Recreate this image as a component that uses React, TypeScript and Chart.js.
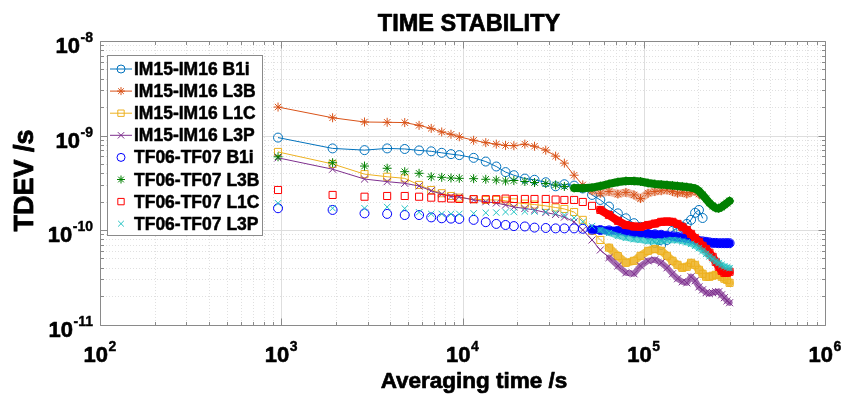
import { useEffect, useRef } from 'react';
import { Chart, registerables } from 'chart.js';

Chart.register(...registerables);

// Averaging time tau (s) at which the deviations were read
const tau = [960, 1920, 2880, 3840, 4800, 5760, 6720, 7680, 8640, 9600,
  11520, 13440, 15360, 17280, 19200, 22080, 24960, 28800, 32640, 36480,
  41280, 46080, 51840, 57600, 64320, 72000, 79680, 88320, 96000, 105600,
  115200, 124800, 134400, 144000, 153600, 163200, 172800, 182400, 192000, 201600,
  211200, 220800, 230400, 240000, 249600, 259200, 268800, 278400, 288000, 297600];

const im1516B1i = [9.5e-10, 7.3e-10, 7.0e-10, 7.3e-10, 7.2e-10, 6.95e-10, 6.8e-10, 6.56e-10, 6.35e-10, 6.2e-10,
  5.8e-10, 5.3e-10, 4.7e-10, 4.1e-10, 3.8e-10, 3.5e-10, 3.4e-10, 3.2e-10, 2.9e-10, 3.05e-10,
  2.95e-10, 2.75e-10, 2.35e-10, 2.08e-10, 1.77e-10, 1.5e-10, 1.33e-10, 1.18e-10, 1.08e-10, 8.9e-11,
  7.3e-11, 6.95e-11, 7.85e-11, 9.8e-11, 1.05e-10, 1.08e-10, 1.16e-10, 1.28e-10, 1.52e-10, 1.63e-10,
  1.34e-10];

const im1516L3B = [2.0e-9, 1.54e-9, 1.39e-9, 1.38e-9, 1.37e-9, 1.28e-9, 1.19e-9, 1.09e-9, 1.03e-9, 9.7e-10,
  8.9e-10, 8.4e-10, 8.1e-10, 7.85e-10, 7.8e-10, 8.1e-10, 7.7e-10, 7.0e-10, 6.05e-10, 5.1e-10,
  3.8e-10, 3.0e-10, 2.6e-10, 2.45e-10, 2.55e-10, 2.4e-10, 2.5e-10, 2.35e-10, 2.15e-10, 2.45e-10,
  2.55e-10, 2.6e-10, 2.65e-10, 2.55e-10, 2.45e-10, 2.5e-10, 2.4e-10, 2.5e-10, 2.6e-10, 2.4e-10,
  2.3e-10];

const im1516L1C = [6.7e-10, 5.0e-10, 3.9e-10, 3.66e-10, 3.52e-10, 3.0e-10, 2.65e-10, 2.45e-10, 2.29e-10, 2.2e-10,
  2.12e-10, 2.08e-10, 2.08e-10, 2.04e-10, 1.96e-10, 1.9e-10, 1.86e-10, 1.8e-10, 1.73e-10, 1.67e-10,
  1.55e-10, 1.28e-10, 9.8e-11, 7.85e-11, 6.5e-11, 5.3e-11, 4.5e-11, 4.72e-11, 5.33e-11, 6.02e-11,
  6.3e-11, 6.02e-11, 5.33e-11, 4.72e-11, 4.28e-11, 3.98e-11, 4.08e-11, 4.5e-11, 4.28e-11, 3.79e-11,
  3.44e-11, 3.2e-11, 3.2e-11, 3.28e-11, 3.36e-11, 3.36e-11, 3.2e-11, 3.05e-11, 2.97e-11, 2.76e-11];

const im1516L3P = [5.8e-10, 4.4e-10, 3.46e-10, 3.25e-10, 3.12e-10, 2.92e-10, 2.6e-10, 2.4e-10, 2.26e-10, 2.24e-10,
  2.08e-10, 1.99e-10, 1.93e-10, 1.84e-10, 1.75e-10, 1.69e-10, 1.63e-10, 1.53e-10, 1.46e-10, 1.37e-10,
  1.22e-10, 1.0e-10, 7.85e-11, 6.15e-11, 5.1e-11, 4.17e-11, 3.52e-11, 3.44e-11, 4.17e-11, 4.72e-11,
  4.85e-11, 4.5e-11, 3.98e-11, 3.44e-11, 3.05e-11, 2.83e-11, 2.76e-11, 3.2e-11, 2.9e-11, 2.5e-11,
  2.33e-11, 2.17e-11, 2.12e-11, 2.17e-11, 2.22e-11, 2.22e-11, 2.06e-11, 1.92e-11, 1.78e-11, 1.7e-11];

const tf0607B1i = [1.7e-10, 1.63e-10, 1.5e-10, 1.48e-10, 1.44e-10, 1.44e-10, 1.36e-10, 1.33e-10, 1.32e-10, 1.31e-10,
  1.28e-10, 1.21e-10, 1.16e-10, 1.13e-10, 1.1e-10, 1.09e-10, 1.06e-10, 1.05e-10, 1.04e-10, 1.04e-10,
  1.04e-10, 1.03e-10, 1.01e-10, 1.0e-10, 9.9e-11, 9.8e-11, 9.55e-11, 9.3e-11, 9.2e-11, 9.1e-11,
  9.0e-11, 8.9e-11, 8.7e-11, 8.6e-11, 8.4e-11, 8.4e-11, 8.2e-11, 8.05e-11, 7.85e-11, 7.67e-11,
  7.58e-11, 7.5e-11, 7.4e-11, 7.3e-11, 7.3e-11, 7.25e-11, 7.25e-11, 7.25e-11, 7.25e-11, 7.25e-11];

const tf0607L3B = [5.95e-10, 5.15e-10, 4.75e-10, 4.5e-10, 4.14e-10, 3.98e-10, 3.66e-10, 3.61e-10, 3.55e-10, 3.52e-10,
  3.49e-10, 3.44e-10, 3.38e-10, 3.3e-10, 3.34e-10, 3.26e-10, 3.18e-10, 3.1e-10, 3.0e-10, 2.89e-10,
  2.78e-10, 2.76e-10, 2.81e-10, 2.92e-10, 3.07e-10, 3.22e-10, 3.3e-10, 3.3e-10, 3.26e-10, 3.14e-10,
  3.07e-10, 3.03e-10, 3.0e-10, 2.96e-10, 2.92e-10, 2.89e-10, 2.85e-10, 2.81e-10, 2.75e-10, 2.59e-10,
  2.35e-10, 2.13e-10, 1.93e-10, 1.8e-10, 1.71e-10, 1.69e-10, 1.75e-10, 1.84e-10, 1.93e-10, 2.03e-10];

const tf0607L1C = [2.65e-10, 2.35e-10, 2.25e-10, 2.29e-10, 2.29e-10, 2.25e-10, 2.2e-10, 2.17e-10, 2.15e-10, 2.13e-10,
  2.12e-10, 2.12e-10, 2.12e-10, 2.15e-10, 2.13e-10, 2.13e-10, 2.13e-10, 2.13e-10, 2.1e-10, 2.08e-10,
  2.08e-10, 1.98e-10, 1.8e-10, 1.63e-10, 1.44e-10, 1.25e-10, 1.13e-10, 1.09e-10, 1.08e-10, 1.13e-10,
  1.17e-10, 1.22e-10, 1.23e-10, 1.22e-10, 1.16e-10, 1.08e-10, 1.0e-10, 9.1e-11, 8.2e-11, 7.5e-11,
  6.8e-11, 6.3e-11, 5.75e-11, 5.2e-11, 4.6e-11, 4.08e-11, 3.7e-11, 3.52e-11, 3.52e-11, 3.61e-11];

const tf0607L3P = [1.92e-10, 1.7e-10, 1.7e-10, 1.75e-10, 1.69e-10, 1.54e-10, 1.48e-10, 1.48e-10, 1.48e-10, 1.48e-10,
  1.5e-10, 1.52e-10, 1.53e-10, 1.55e-10, 1.56e-10, 1.57e-10, 1.57e-10, 1.56e-10, 1.52e-10, 1.44e-10,
  1.34e-10, 1.22e-10, 1.1e-10, 1.0e-10, 9.3e-11, 8.66e-11, 8.25e-11, 7.97e-11, 7.85e-11, 7.58e-11,
  7.55e-11, 7.58e-11, 7.77e-11, 7.85e-11, 7.77e-11, 7.58e-11, 7.4e-11, 7.13e-11, 6.8e-11, 6.43e-11,
  6.02e-11, 5.6e-11, 5.25e-11, 4.95e-11, 4.66e-11, 4.47e-11, 4.28e-11, 4.13e-11, 4.03e-11, 3.95e-11];

const seriesLabels = ['IM15-IM16 B1i', 'IM15-IM16 L3B', 'IM15-IM16 L1C', 'IM15-IM16 L3P',
  'TF06-TF07 B1i', 'TF06-TF07 L3B', 'TF06-TF07 L1C', 'TF06-TF07 L3P'];

const xTickValues = [1e2, 1e3, 1e4, 1e5, 1e6];
const xTickExps = ['2', '3', '4', '5', '6'];
const yTickValues = [1e-11, 1e-10, 1e-9, 1e-8];
const yTickExps = ['-11', '-10', '-9', '-8'];

const titleText = 'TIME STABILITY';
const xTitle = 'Averaging time /s';
const yTitle = 'TDEV /s';

const FONT = '"Liberation Sans", Arial, Helvetica, sans-serif';
const INK = '#000000';

type Marker = 'circle' | 'star' | 'rect' | 'crossRot';
type Spec = {
  label: string; values: number[]; color: string; marker: Marker; radius: number;
  line: boolean; bandFrom: number; bandColor: string; bandWidth: number;
};

const specs: Spec[] = [
  { label: seriesLabels[0], values: im1516B1i, color: '#0072BD', marker: 'circle', radius: 4.5, line: true, bandFrom: -1, bandColor: '', bandWidth: 1 },
  { label: seriesLabels[1], values: im1516L3B, color: '#D95319', marker: 'star', radius: 4.5, line: true, bandFrom: 22, bandColor: 'rgba(217,83,25,0.4)', bandWidth: 8 },
  { label: seriesLabels[2], values: im1516L1C, color: '#EDB120', marker: 'rect', radius: 5, line: true, bandFrom: 24, bandColor: 'rgba(237,177,32,0.85)', bandWidth: 8 },
  { label: seriesLabels[3], values: im1516L3P, color: '#7E2F8E', marker: 'crossRot', radius: 5, line: true, bandFrom: 24, bandColor: 'rgba(126,47,142,0.7)', bandWidth: 6 },
  { label: seriesLabels[4], values: tf0607B1i, color: '#0000FF', marker: 'circle', radius: 4.5, line: false, bandFrom: 22, bandColor: '#0000FF', bandWidth: 8 },
  { label: seriesLabels[5], values: tf0607L3B, color: '#008000', marker: 'star', radius: 4.5, line: false, bandFrom: 20, bandColor: '#008000', bandWidth: 8 },
  { label: seriesLabels[6], values: tf0607L1C, color: '#FF0000', marker: 'rect', radius: 5, line: false, bandFrom: 23, bandColor: '#FF0000', bandWidth: 8 },
  { label: seriesLabels[7], values: tf0607L3P, color: '#22C2C2', marker: 'crossRot', radius: 4.5, line: false, bandFrom: 23, bandColor: 'rgba(34,194,194,0.7)', bandWidth: 6 },
];

function drawMarker(ctx: CanvasRenderingContext2D, kind: Marker, x: number, y: number, r: number, color: string) {
  ctx.save();
  ctx.strokeStyle = color;
  ctx.lineWidth = 1;
  ctx.setLineDash([]);
  ctx.beginPath();
  const h = r * Math.SQRT1_2;
  if (kind === 'circle') {
    ctx.arc(x, y, r, 0, Math.PI * 2);
  } else if (kind === 'rect') {
    ctx.rect(x - h, y - h, 2 * h, 2 * h);
  } else if (kind === 'crossRot') {
    ctx.moveTo(x - h, y - h); ctx.lineTo(x + h, y + h);
    ctx.moveTo(x - h, y + h); ctx.lineTo(x + h, y - h);
  } else {
    ctx.moveTo(x - r, y); ctx.lineTo(x + r, y);
    ctx.moveTo(x, y - r); ctx.lineTo(x, y + r);
    ctx.moveTo(x - h, y - h); ctx.lineTo(x + h, y + h);
    ctx.moveTo(x - h, y + h); ctx.lineTo(x + h, y - h);
  }
  ctx.stroke();
  ctx.restore();
}

// bold text with a thin outline to match the heavy look of the original
function heavyText(ctx: CanvasRenderingContext2D, s: string, x: number, y: number, w = 0.6) {
  ctx.fillStyle = INK;
  ctx.strokeStyle = INK;
  ctx.lineWidth = w;
  ctx.lineJoin = 'round';
  ctx.fillText(s, x, y);
  ctx.strokeText(s, x, y);
}

function drawPow(ctx: CanvasRenderingContext2D, exp: string, x: number, baseY: number, expY: number, align: 'center' | 'right') {
  const baseFont = `bold 22px ${FONT}`;
  const expFont = `bold 14px ${FONT}`;
  ctx.font = baseFont;
  const wb = ctx.measureText('10').width;
  ctx.font = expFont;
  const we = ctx.measureText(exp).width;
  const total = wb + we + 0.5;
  const start = align === 'center' ? x - total / 2 : x - total;
  ctx.textAlign = 'left';
  ctx.textBaseline = 'alphabetic';
  ctx.font = baseFont;
  heavyText(ctx, '10', start, baseY);
  ctx.font = expFont;
  heavyText(ctx, exp, start + wb + 0.5, expY, 0.4);
}

const decorPlugin = {
  id: 'decor',
  beforeDatasetsDraw(chart: any) {
    const { ctx, chartArea: a, scales } = chart;
    const xs = scales.x;
    const ys = scales.y;
    ctx.save();
    ctx.lineWidth = 1;
    // minor grid (dotted)
    ctx.strokeStyle = '#e0e0e0';
    ctx.setLineDash([1, 2]);
    ctx.beginPath();
    for (let e = 2; e < 6; e++) {
      for (let m = 2; m <= 9; m++) {
        const px = Math.round(xs.getPixelForValue(m * Math.pow(10, e))) + 0.5;
        ctx.moveTo(px, a.top); ctx.lineTo(px, a.bottom);
      }
    }
    for (let e = -11; e < -8; e++) {
      for (let m = 2; m <= 9; m++) {
        const py = Math.round(ys.getPixelForValue(m * Math.pow(10, e))) + 0.5;
        ctx.moveTo(a.left, py); ctx.lineTo(a.right, py);
      }
    }
    ctx.stroke();
    // major grid
    ctx.setLineDash([]);
    ctx.strokeStyle = '#dedede';
    ctx.beginPath();
    for (const v of xTickValues) {
      const px = Math.round(xs.getPixelForValue(v)) + 0.5;
      ctx.moveTo(px, a.top); ctx.lineTo(px, a.bottom);
    }
    for (const v of yTickValues) {
      const py = Math.round(ys.getPixelForValue(v)) + 0.5;
      ctx.moveTo(a.left, py); ctx.lineTo(a.right, py);
    }
    ctx.stroke();
    // box and inward ticks
    ctx.strokeStyle = '#8a8a8a';
    ctx.beginPath();
    const L = Math.round(a.left) + 0.5, R = Math.round(a.right) + 0.5;
    const T = Math.round(a.top) + 0.5, B = Math.round(a.bottom) + 0.5;
    ctx.rect(L, T, R - L, B - T);
    for (let e = 2; e <= 6; e++) {
      for (let m = 1; m <= 9; m++) {
        if (e === 6 && m > 1) break;
        const px = Math.round(xs.getPixelForValue(m * Math.pow(10, e))) + 0.5;
        const len = m === 1 ? 7 : 3.5;
        ctx.moveTo(px, B); ctx.lineTo(px, B - len);
        ctx.moveTo(px, T); ctx.lineTo(px, T + len);
      }
    }
    for (let e = -11; e <= -8; e++) {
      for (let m = 1; m <= 9; m++) {
        if (e === -8 && m > 1) break;
        const py = Math.round(ys.getPixelForValue(m * Math.pow(10, e))) + 0.5;
        const len = m === 1 ? 7 : 3.5;
        ctx.moveTo(L, py); ctx.lineTo(L + len, py);
        ctx.moveTo(R, py); ctx.lineTo(R - len, py);
      }
    }
    ctx.stroke();
    ctx.restore();
  },
  afterDatasetsDraw(chart: any) {
    const { ctx } = chart;
    ctx.save();
    const x0 = 107, y0 = 55, x1 = 262, y1 = 235;
    ctx.fillStyle = '#ffffff';
    ctx.fillRect(x0, y0, x1 - x0, y1 - y0);
    ctx.strokeStyle = '#8a8a8a';
    ctx.lineWidth = 1;
    ctx.strokeRect(x0 + 0.5, y0 + 0.5, x1 - x0, y1 - y0);
    specs.forEach((s, i) => {
      const base = 75 + 22.1 * i;
      const cy = base - 6;
      if (s.line) {
        ctx.strokeStyle = s.color;
        ctx.lineWidth = 1;
        ctx.beginPath();
        ctx.moveTo(110, cy); ctx.lineTo(132, cy);
        ctx.stroke();
      }
      drawMarker(ctx, s.marker, 121, cy, s.radius - 0.5, s.color);
      ctx.font = `bold 17.5px ${FONT}`;
      ctx.textAlign = 'left';
      ctx.textBaseline = 'alphabetic';
      heavyText(ctx, s.label, 134, base, 0.5);
    });
    ctx.restore();
  },
  afterDraw(chart: any) {
    const { ctx, chartArea: a, scales } = chart;
    ctx.save();
    xTickValues.forEach((v, i) => {
      const px = scales.x.getPixelForValue(v);
      drawPow(ctx, xTickExps[i], px, a.bottom + 37, a.bottom + 26, 'center');
    });
    yTickValues.forEach((v, i) => {
      const py = scales.y.getPixelForValue(v);
      drawPow(ctx, yTickExps[i], a.left - 7, py + 12, py + 1, 'right');
    });
    ctx.textAlign = 'center';
    ctx.textBaseline = 'alphabetic';
    ctx.font = `bold 23.5px ${FONT}`;
    heavyText(ctx, titleText, 469, 31, 0.7);
    ctx.font = `bold 22.5px ${FONT}`;
    heavyText(ctx, xTitle, 474, 388, 0.7);
    ctx.translate(33, 180.5);
    ctx.rotate(-Math.PI / 2);
    ctx.font = `bold 27px ${FONT}`;
    heavyText(ctx, yTitle, 0, 0, 0.8);
    ctx.restore();
  },
};

export default function App() {
  const canvasRef = useRef<HTMLCanvasElement | null>(null);
  useEffect(() => {
    const canvas = canvasRef.current;
    if (!canvas) return;
    const datasets = specs.map((s, i) => {
      const thin = s.line ? s.color : 'rgba(0,0,0,0)';
      return {
        label: s.label,
        data: s.values.map((v, k) => ({ x: tau[k], y: v })),
        order: specs.length - i,
        showLine: true,
        borderColor: thin,
        borderWidth: 1,
        borderCapStyle: 'round',
        borderJoinStyle: 'round',
        pointStyle: s.marker,
        pointRadius: s.radius,
        pointBorderColor: s.color,
        pointBackgroundColor: 'rgba(0,0,0,0)',
        pointBorderWidth: 1,
        tension: 0,
        segment: {
          borderColor: (c: any) => (s.bandFrom >= 0 && c.p0DataIndex >= s.bandFrom ? s.bandColor : thin),
          borderWidth: (c: any) => (s.bandFrom >= 0 && c.p0DataIndex >= s.bandFrom ? s.bandWidth : 1),
        },
      };
    });
    const chart = new Chart(canvas, {
      type: 'scatter',
      data: { datasets: datasets as any },
      options: {
        responsive: false,
        animation: false,
        devicePixelRatio: 1,
        events: [],
        layout: { padding: { left: 100, right: 20, top: 41, bottom: 77.5 } },
        scales: {
          x: { type: 'logarithmic', min: 1e2, max: 1e6, display: false },
          y: { type: 'logarithmic', min: 1e-11, max: 1e-8, display: false },
        },
        plugins: {
          legend: { display: false },
          title: { display: false },
          tooltip: { enabled: false },
        },
      },
      plugins: [decorPlugin],
    } as any);
    return () => chart.destroy();
  }, []);
  return (
    <div style={{ position: 'fixed', left: 0, top: 0, width: 845, height: 402, background: '#ffffff' }}>
      <canvas ref={canvasRef} width={845} height={402} style={{ display: 'block', width: 845, height: 402 }} />
    </div>
  );
}
